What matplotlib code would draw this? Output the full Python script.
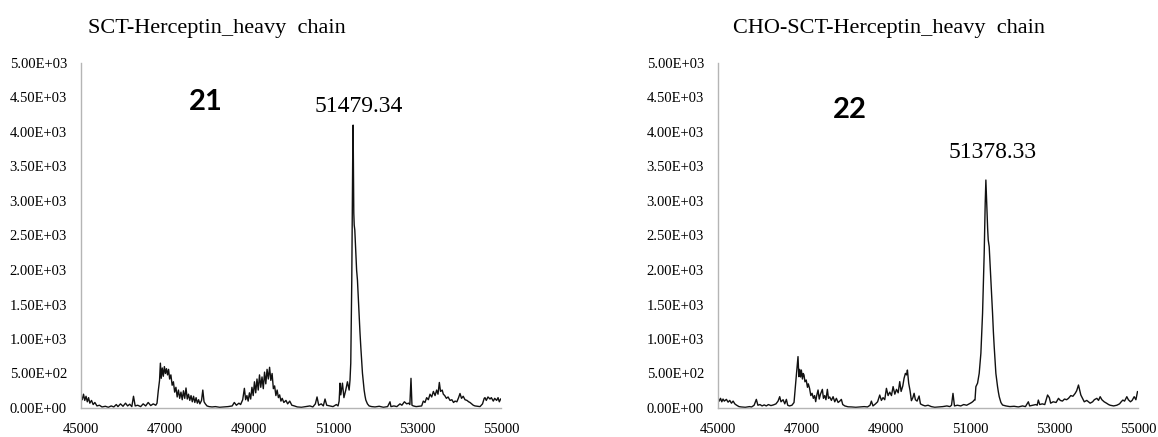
import numpy as np
import matplotlib
matplotlib.use("Agg")
import matplotlib.pyplot as plt

# spectrum 21 : SCT-Herceptin heavy chain (mass, intensity)
mass_21 = [45000, 45030, 45060, 45090, 45120, 45150, 45180, 45210, 45250, 45290, 45330, 45380, 45440, 45500,
           45580, 45650, 45720, 45780, 45840, 45880, 45940, 46000, 46060, 46110, 46160, 46210, 46250, 46290,
           46350, 46420, 46480, 46540, 46600, 46660, 46720, 46780, 46810, 46840, 46870, 46890, 46910, 46935,
           46960, 46985, 47010, 47035, 47060, 47085, 47110, 47140, 47170, 47200, 47230, 47260, 47290, 47320,
           47350, 47380, 47410, 47440, 47470, 47500, 47530, 47560, 47590, 47620, 47650, 47680, 47710, 47740,
           47770, 47800, 47830, 47870, 47900, 47930, 47960, 48000, 48050, 48120, 48200, 48300, 48400, 48500,
           48600, 48650, 48700, 48760, 48800, 48850, 48890, 48920, 48950, 48980, 49010, 49040, 49070, 49100,
           49130, 49160, 49190, 49220, 49250, 49280, 49310, 49340, 49370, 49400, 49430, 49460, 49490, 49520,
           49550, 49580, 49610, 49640, 49670, 49700, 49730, 49760, 49790, 49830, 49880, 49920, 49970, 50020,
           50080, 50150, 50250, 50350, 50450, 50520, 50580, 50620, 50660, 50720, 50770, 50810, 50850, 50920,
           51000, 51080, 51120, 51146, 51167, 51185, 51225, 51260, 51304, 51344, 51384, 51405, 51423, 51447,
           51471, 51479, 51488, 51495, 51505, 51519, 51543, 51562, 51582, 51602, 51622, 51642, 51662, 51682,
           51701, 51721, 51741, 51761, 51781, 51820, 51860, 51920, 52000, 52100, 52200, 52300, 52357, 52380,
           52450, 52520, 52595, 52640, 52700, 52754, 52800, 52830, 52857, 52880, 52913, 52980, 53050, 53111,
           53150, 53190, 53230, 53270, 53310, 53350, 53390, 53430, 53468, 53500, 53532, 53560, 53600, 53627,
           53660, 53700, 53740, 53786, 53830, 53870, 53905, 53950, 53990, 54024, 54060, 54100, 54143, 54190,
           54230, 54262, 54300, 54340, 54381, 54440, 54500, 54560, 54600, 54619, 54650, 54690, 54738, 54770,
           54817, 54850, 54896, 54930, 54960, 54992]
int_21 = [180, 120, 200, 110, 170, 90, 150, 70, 110, 50, 80, 30, 40, 15,
          25, 10, 30, 15, 50, 20, 60, 25, 70, 30, 55, 20, 170, 30,
          40, 20, 60, 30, 80, 35, 60, 40, 70, 250, 400, 650, 430, 580,
          460, 600, 500, 570, 480, 560, 420, 480, 330, 380, 230, 300, 160, 260,
          140, 230, 120, 250, 140, 290, 130, 200, 110, 180, 90, 170, 80, 150,
          70, 120, 60, 110, 260, 90, 60, 30, 20, 15, 20, 10, 15, 20,
          30, 80, 40, 70, 50, 120, 285, 120, 180, 100, 220, 130, 300, 180,
          380, 220, 420, 260, 480, 300, 450, 280, 520, 350, 560, 420, 590, 400,
          500, 280, 320, 180, 260, 150, 190, 100, 140, 80, 110, 60, 100, 40,
          30, 15, 10, 20, 30, 15, 60, 160, 40, 60, 30, 130, 40, 30,
          20, 50, 30, 100, 360, 190, 360, 150, 260, 380, 260, 405, 650, 1850,
          3787, 4100, 3300, 2826, 2650, 2580, 2246, 2000, 1855, 1600, 1377, 1100, 884, 700,
          507, 380, 261, 180, 116, 60, 30, 20, 15, 25, 10, 20, 90, 20,
          30, 20, 60, 40, 90, 60, 70, 50, 430, 40, 30, 20, 25, 30,
          100, 80, 150, 120, 200, 160, 240, 180, 260, 200, 370, 240, 260, 200,
          180, 140, 160, 110, 120, 80, 100, 90, 150, 210, 140, 170, 120, 110,
          90, 80, 60, 40, 30, 25, 20, 60, 140, 150, 110, 160, 130, 150,
          100, 140, 110, 150, 90, 130]

# spectrum 22 : CHO-SCT-Herceptin heavy chain
mass_22 = [45000, 45030, 45060, 45090, 45120, 45150, 45200, 45240, 45280, 45320, 45360, 45400, 45437, 45500,
           45555, 45650, 45750, 45800, 45860, 45913, 45950, 46000, 46050, 46100, 46150, 46200, 46260, 46320,
           46380, 46430, 46469, 46500, 46550, 46590, 46628, 46660, 46700, 46760, 46810, 46840, 46866, 46885,
           46905, 46925, 46945, 46965, 46985, 47010, 47030, 47048, 47070, 47100, 47130, 47150, 47180, 47210,
           47240, 47270, 47300, 47326, 47350, 47382, 47410, 47440, 47485, 47510, 47540, 47570, 47604, 47630,
           47660, 47700, 47740, 47780, 47818, 47860, 47900, 47937, 47970, 48020, 48097, 48180, 48280, 48380,
           48480, 48560, 48620, 48652, 48690, 48750, 48800, 48851, 48890, 48930, 48970, 49010, 49050, 49090,
           49130, 49169, 49210, 49250, 49290, 49327, 49360, 49400, 49430, 49462, 49490, 49510, 49540, 49573,
           49605, 49640, 49669, 49700, 49740, 49788, 49820, 49870, 49930, 50002, 50080, 50161, 50250, 50350,
           50450, 50520, 50560, 50595, 50630, 50700, 50780, 50850, 50921, 50980, 51040, 51080, 51100, 51119,
           51140, 51180, 51219, 51259, 51299, 51338, 51362, 51378, 51390, 51402, 51420, 51434, 51457, 51477,
           51497, 51517, 51537, 51557, 51576, 51596, 51616, 51636, 51656, 51676, 51696, 51736, 51775, 51854,
           51950, 52050, 52150, 52250, 52320, 52389, 52420, 52500, 52569, 52600, 52627, 52660, 52720, 52780,
           52847, 52889, 52920, 52980, 53050, 53107, 53150, 53200, 53250, 53300, 53345, 53400, 53450, 53504,
           53540, 53583, 53610, 53639, 53680, 53720, 53780, 53861, 53920, 53960, 54020, 54060, 54099, 54140,
           54194, 54250, 54300, 54337, 54420, 54496, 54560, 54600, 54639, 54680, 54734, 54770, 54820, 54860,
           54909, 54950, 54988]
int_22 = [150, 100, 140, 90, 130, 100, 125, 85, 110, 70, 100, 60, 43, 20,
          15, 10, 20, 15, 40, 125, 40, 50, 30, 45, 30, 50, 35, 45,
          60, 100, 164, 90, 120, 60, 125, 40, 30, 40, 80, 300, 478, 600,
          745, 454, 560, 450, 550, 420, 500, 478, 380, 406, 300, 350, 285, 180,
          213, 140, 180, 92, 180, 261, 130, 200, 270, 140, 180, 120, 270, 140,
          160, 110, 164, 90, 140, 80, 100, 125, 50, 30, 17, 15, 10, 15,
          20, 15, 40, 100, 30, 60, 90, 188, 110, 150, 120, 285, 180, 230,
          180, 310, 200, 270, 220, 382, 240, 320, 430, 502, 480, 550, 360, 250,
          106, 150, 213, 120, 100, 174, 60, 43, 30, 40, 20, 10, 15, 20,
          30, 20, 40, 212, 30, 40, 30, 50, 40, 60, 80, 100, 116, 115,
          309, 360, 502, 792, 1372, 2242, 2966, 3304, 3100, 2918, 2600, 2435, 2338, 2100,
          1855, 1600, 1372, 1100, 889, 700, 502, 400, 309, 230, 164, 80, 43, 30,
          20, 25, 15, 30, 20, 90, 30, 40, 50, 40, 115, 50, 60, 50,
          188, 150, 70, 90, 80, 140, 110, 100, 130, 120, 140, 180, 170, 212,
          250, 333, 260, 188, 140, 90, 110, 70, 90, 120, 140, 110, 164, 120,
          90, 70, 50, 40, 30, 40, 60, 90, 115, 100, 164, 120, 90, 110,
          164, 120, 237]

titles = ["SCT-Herceptin_heavy  chain", "CHO-SCT-Herceptin_heavy  chain"]
labels = ["21", "22"]
peak_labels = ["51479.34", "51378.33"]
x_ticks = [45000, 47000, 49000, 51000, 53000, 55000]
y_ticks = [0, 500, 1000, 1500, 2000, 2500, 3000, 3500, 4000, 4500, 5000]

serif = "Liberation Serif"
W, H = 1158, 437
fig = plt.figure(figsize=(W / 100, H / 100), dpi=100)

# axes boxes in pixels: left, right, top, bottom
boxes = [(81, 501, 63, 408), (718, 1138, 63, 408)]
title_pos = [(217, 33), (889, 33)]
num_pos = [(206, 110), (850, 118)]
peak_pos = [(359, 112), (993, 158)]
series = [(mass_21, int_21), (mass_22, int_22)]

for i in range(2):
    l, r, t, b = boxes[i]
    ax = fig.add_axes([l / W, 1 - b / H, (r - l) / W, (b - t) / H])
    m, y = series[i]
    ax.plot(m, y, color="#111111", lw=1.0)
    ax.set_xlim(45000, 55000)
    ax.set_ylim(0, 5000)
    ax.set_xticks(x_ticks)
    ax.set_yticks(y_ticks)
    ax.set_xticklabels([str(v) for v in x_ticks], fontfamily=serif, fontsize=10.5)
    ax.set_yticklabels(["{:.2E}".format(v) for v in y_ticks], fontfamily=serif, fontsize=10.5)
    ax.tick_params(length=0)
    ax.tick_params(axis="y", pad=10)
    ax.tick_params(axis="x", pad=11)
    for s in ["top", "right"]:
        ax.spines[s].set_visible(False)
    for s in ["left", "bottom"]:
        ax.spines[s].set_color("#b5b5b5")
        ax.spines[s].set_linewidth(1.0)

    tx, ty = title_pos[i]
    fig.text(tx / W, 1 - ty / H, titles[i], fontfamily=serif, fontsize=16,
             ha="center", va="baseline")
    nx, ny = num_pos[i]
    fig.text(nx / W, 1 - ny / H, labels[i], fontfamily="Lato", fontweight="bold",
             fontsize=21, ha="center", va="baseline")
    px, py = peak_pos[i]
    fig.text(px / W, 1 - py / H, peak_labels[i], fontfamily=serif, fontsize=17,
             ha="center", va="baseline")

fig.savefig("out.png", dpi=100)
